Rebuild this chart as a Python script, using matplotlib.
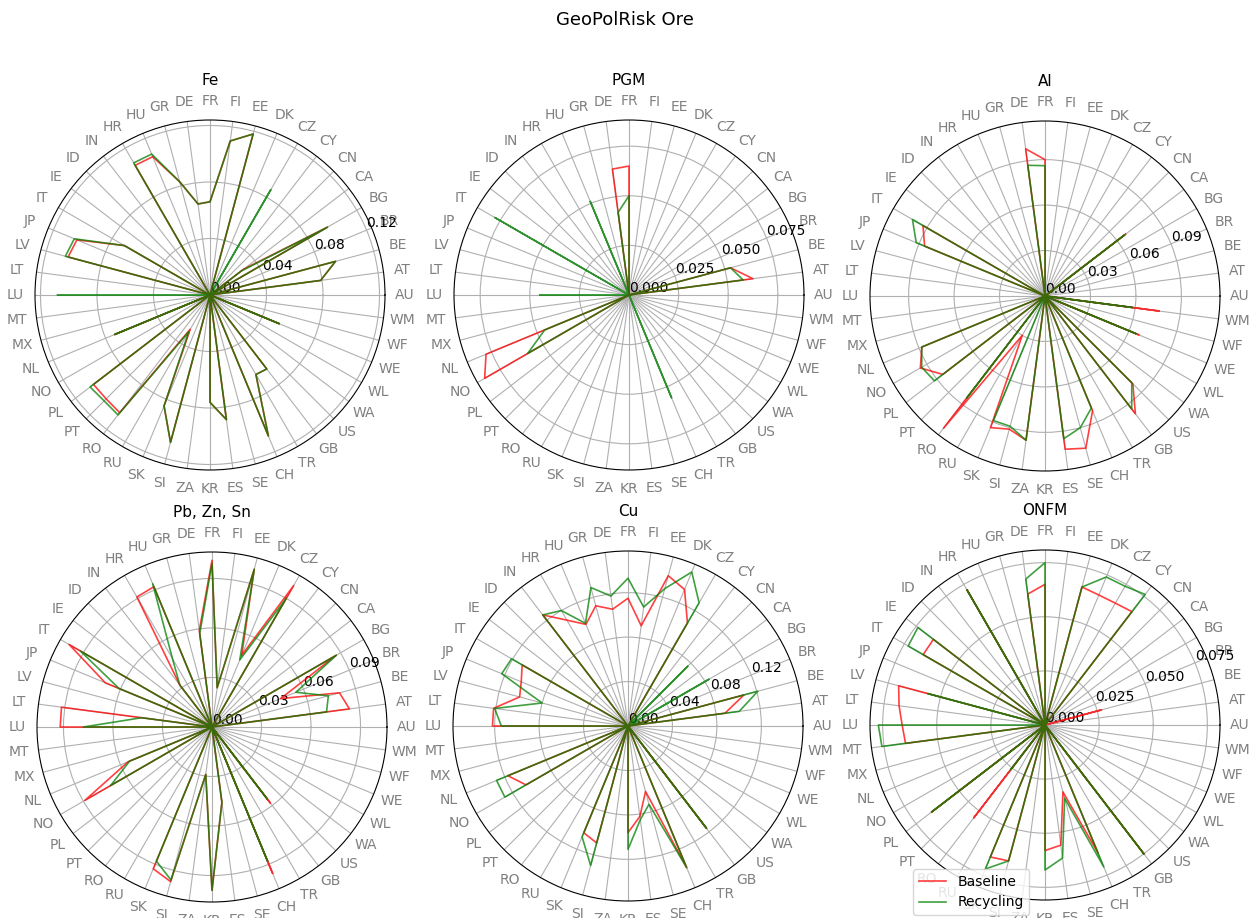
import numpy as np
import matplotlib.pyplot as plt

countries = ["AU", "AT", "BE", "BR", "BG", "CA", "CN", "CY", "CZ", "DK", "EE", "FI",
             "FR", "DE", "GR", "HU", "HR", "IN", "ID", "IE", "IT", "JP", "LV", "LT",
             "LU", "MT", "MX", "NL", "NO", "PL", "PT", "RO", "RU", "SK", "SI", "ZA",
             "KR", "ES", "SE", "CH", "TR", "GB", "US", "WA", "WL", "WE", "WF", "WM"]

minerals = ["Fe", "PGM", "Al", "Pb, Zn, Sn", "Cu", "ONFM"]

# GeoPolRisk per supplying country, baseline vs. recycling scenario
fe_baseline = [0, 0.079, 0.092, 0, 0.096, 0.030, 0, 0, 0, 0, 0.118, 0.110,
               0.066, 0.065, 0.083, 0.106, 0.106, 0, 0, 0, 0.070, 0.102, 0.104, 0,
               0, 0, 0, 0.073, 0, 0.104, 0.104, 0.105, 0.028, 0.085, 0.108, 0,
               0.076, 0.089, 0, 0.108, 0.065, 0.066, 0, 0, 0, 0.053, 0, 0]
fe_recycling = [0, 0.079, 0.092, 0, 0.096, 0.028, 0, 0, 0.086, 0, 0.118, 0.110,
                0.066, 0.065, 0.083, 0.108, 0.108, 0, 0, 0, 0.070, 0.104, 0.106, 0,
                0.108, 0, 0, 0.073, 0, 0.107, 0.106, 0.107, 0.030, 0.085, 0.108, 0,
                0.076, 0.089, 0, 0.108, 0.065, 0.066, 0, 0, 0, 0.053, 0, 0]

pgm_baseline = [0, 0.063, 0.053, 0, 0, 0, 0, 0, 0, 0, 0, 0,
                0.065, 0.064, 0, 0, 0, 0, 0, 0, 0, 0, 0, 0,
                0, 0, 0, 0.078, 0.084, 0, 0, 0, 0, 0, 0, 0,
                0, 0, 0, 0, 0, 0, 0, 0, 0, 0, 0, 0]
pgm_recycling = [0, 0.058, 0.053, 0, 0, 0, 0, 0, 0, 0, 0, 0,
                 0.050, 0.042, 0, 0.051, 0, 0, 0, 0, 0.078, 0, 0, 0,
                 0.045, 0, 0, 0.046, 0.059, 0, 0, 0, 0, 0, 0, 0,
                 0, 0, 0, 0.056, 0, 0, 0, 0, 0, 0, 0, 0]

al_baseline = [0, 0, 0, 0, 0, 0.067, 0, 0, 0, 0, 0, 0,
               0.090, 0.098, 0, 0, 0, 0, 0, 0, 0.093, 0.086, 0, 0,
               0, 0, 0, 0.088, 0.095, 0.085, 0, 0.110, 0.030, 0.094, 0.091, 0.096,
               0, 0.102, 0.104, 0.082, 0, 0.098, 0.082, 0, 0, 0.067, 0, 0.076]
al_recycling = [0, 0, 0, 0, 0, 0.066, 0, 0, 0, 0, 0, 0,
                0.086, 0.087, 0, 0, 0, 0, 0, 0, 0.101, 0.092, 0, 0,
                0, 0, 0, 0.088, 0.094, 0.092, 0, 0.085, 0, 0.089, 0.089, 0.096,
                0, 0.095, 0.090, 0.080, 0, 0.094, 0.081, 0, 0, 0.065, 0, 0.058]

pb_baseline = [0, 0.084, 0.080, 0.045, 0.087, 0, 0, 0, 0.099, 0.047, 0.099, 0.024,
               0.101, 0.059, 0, 0.092, 0.091, 0.032, 0, 0, 0.100, 0.070, 0, 0.092,
               0.092, 0, 0, 0.055, 0.089, 0, 0, 0, 0, 0.093, 0.097, 0.029,
               0.099, 0.046, 0, 0.096, 0, 0.058, 0, 0, 0, 0, 0, 0]
pb_recycling = [0, 0.070, 0.073, 0.055, 0.087, 0, 0, 0, 0.090, 0.044, 0.099, 0.024,
                0.099, 0.057, 0, 0.094, 0.048, 0.032, 0, 0, 0.092, 0.061, 0, 0.043,
                0.078, 0, 0, 0.054, 0.071, 0, 0, 0, 0, 0.088, 0.096, 0.029,
                0.099, 0.046, 0, 0.088, 0, 0.055, 0, 0, 0, 0, 0, 0]

cu_baseline = [0, 0.088, 0.108, 0, 0, 0, 0, 0, 0.107, 0.133, 0.140, 0.091,
               0.115, 0.106, 0.112, 0.099, 0.110, 0.126, 0, 0, 0.110, 0.104, 0.101, 0.122,
               0.122, 0, 0, 0.117, 0.106, 0, 0, 0, 0, 0.104, 0.109, 0,
               0.096, 0.082, 0.061, 0.138, 0, 0.116, 0, 0, 0, 0, 0, 0]
cu_recycling = [0, 0.101, 0.121, 0, 0.084, 0, 0.076, 0, 0.128, 0.150, 0.128, 0.108,
                0.133, 0.118, 0.129, 0.100, 0.120, 0.126, 0, 0, 0.121, 0.123, 0.080, 0.121,
                0.114, 0, 0, 0.128, 0.128, 0, 0, 0, 0, 0.108, 0.130, 0,
                0.111, 0.085, 0.073, 0.138, 0, 0.116, 0, 0, 0, 0, 0, 0]

onfm_baseline = [0, 0, 0.027, 0, 0, 0, 0, 0.066, 0.065, 0.065, 0.066, 0,
                 0.065, 0.061, 0, 0, 0.072, 0, 0, 0.065, 0.065, 0, 0.070, 0.068,
                 0.066, 0.065, 0, 0, 0, 0.066, 0, 0.054, 0, 0.066, 0.065, 0,
                 0.058, 0.056, 0.032, 0.064, 0, 0.075, 0, 0, 0, 0, 0, 0]
onfm_recycling = [0, 0, 0, 0, 0, 0, 0, 0.076, 0.074, 0.074, 0.066, 0,
                  0.075, 0.068, 0, 0, 0.072, 0, 0, 0.074, 0.073, 0, 0.056, 0,
                  0.077, 0.076, 0, 0, 0, 0.066, 0, 0.026, 0, 0.072, 0.065, 0,
                  0.067, 0.062, 0.035, 0.071, 0, 0.075, 0, 0, 0, 0, 0, 0]

baseline = [fe_baseline, pgm_baseline, al_baseline, pb_baseline, cu_baseline, onfm_baseline]
recycling = [fe_recycling, pgm_recycling, al_recycling, pb_recycling, cu_recycling, onfm_recycling]

# spacing of the radial rings for each mineral
rtick_step = [0.04, 0.025, 0.03, 0.03, 0.04, 0.025]

W, H = 1250, 918
R = 175  # radius of each radar in pixels
centers = [(210, 295), (629, 295), (1045, 296), (212, 727), (628, 726), (1045, 725)]

angles = np.linspace(0, 2 * np.pi, len(countries), endpoint=False)
closed = np.append(angles, angles[0])

fig = plt.figure(figsize=(W / 100, H / 100), dpi=100)
fig.suptitle("GeoPolRisk Ore", fontsize=13, y=0.988)

for name, base, rec, step, (cx, cy) in zip(minerals, baseline, recycling, rtick_step, centers):
    ax = fig.add_axes([(cx - R) / W, 1 - (cy + R) / H, 2 * R / W, 2 * R / H], projection="polar")
    base_line, = ax.plot(closed, base + base[:1], color="red", lw=1.2, alpha=0.75)
    rec_line, = ax.plot(closed, rec + rec[:1], color="green", lw=1.2, alpha=0.75)

    rmax = 1.05 * max(max(base), max(rec))
    ax.set_xticks(angles)
    ax.set_xticklabels(countries, color="gray", fontsize=10)
    ax.set_yticks(np.arange(0, rmax, step))
    ax.set_ylim(0, rmax)
    ax.tick_params(axis="y", labelsize=10)
    ax.set_title(name, fontsize=11)

fig.legend([base_line, rec_line], ["Baseline", "Recycling"], loc="lower left",
           bbox_to_anchor=(913 / W, 3 / H), borderaxespad=0, fontsize=10)

fig.savefig("out.png", dpi=100)
